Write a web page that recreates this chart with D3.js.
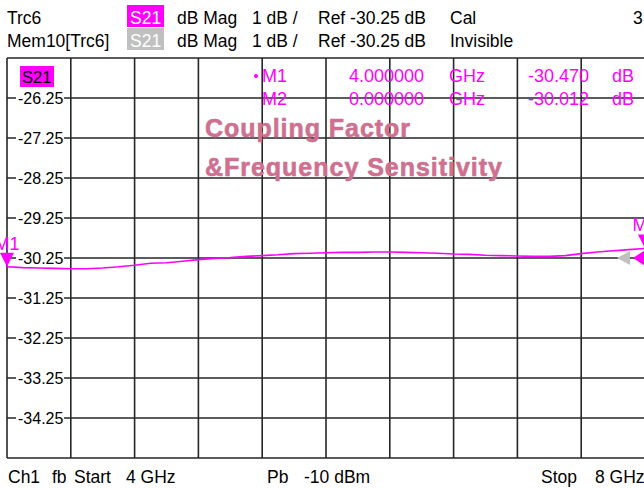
<!DOCTYPE html>
<html>
<head>
<meta charset="utf-8">
<script src="https://cdn.jsdelivr.net/npm/d3@7"></script>
<style>
  body { margin: 0; background: #fff; }
  text { font-family: "Liberation Sans", Arial, sans-serif; }
</style>
</head>
<body>
<div id="chart"></div>
<script>
// trace data (S21 magnitude vs frequency)
var freqGHz = [4.0, 4.1, 4.2, 4.3, 4.4, 4.5, 4.6, 4.7, 4.8, 4.9,
               5.0, 5.1, 5.2, 5.3, 5.4, 5.5, 5.6, 5.7, 5.8, 5.9,
               6.0, 6.1, 6.2, 6.3, 6.4, 6.5, 6.6, 6.7, 6.8, 6.9,
               7.0, 7.1, 7.2, 7.3, 7.4, 7.5, 7.6, 7.7, 7.8, 7.9, 8.0];
var s21dB = [-30.47, -30.49, -30.50, -30.51, -30.52, -30.52, -30.50, -30.47, -30.43, -30.38,
             -30.37, -30.33, -30.29, -30.26, -30.24, -30.21, -30.19, -30.17, -30.14, -30.13,
             -30.12, -30.11, -30.11, -30.10, -30.10, -30.11, -30.12, -30.13, -30.15, -30.16,
             -30.18, -30.19, -30.20, -30.21, -30.21, -30.19, -30.14, -30.10, -30.07, -30.04, -30.012];

var yTicks = [-26.25, -27.25, -28.25, -29.25, -30.25, -31.25, -32.25, -33.25, -34.25];
var refLevel = -30.25;

var markerNames = ["M1", "M2"];
var markerFreq = [4.0, 8.0];
var markerFreqText = ["4.000000", "0.000000"];
var markerValText = ["-30.470", "-30.012"];
var markerVal = [-30.47, -30.012];

var headerRows = [
  ["Trc6", "S21", "dB Mag", "1 dB /", "Ref -30.25 dB", "Cal"],
  ["Mem10[Trc6]", "S21", "dB Mag", "1 dB /", "Ref -30.25 dB", "Invisible"]
];
var footerTexts = ["Ch1", "fb", "Start", "4 GHz", "Pb", "-10 dBm", "Stop", "8 GHz"];
var titleLines = ["Coupling Factor", "&Frequency Sensitivity"];

var svgWidth = 644;
var svgHeight = 488;
var magenta = "#ff00ff";
var fs = 17.5;

var svg = d3.select("#chart")
  .append("svg")
  .attr("width", svgWidth)
  .attr("height", svgHeight);

var x = d3.scaleLinear().domain([4, 8]).range([7, 645]);
var y = d3.scaleLinear().domain([-35.25, -25.25]).range([458, 58]);

// header
var headerX = [7, 130, 177, 252, 318, 450];
headerRows.forEach(function(row, i) {
  var base = 24 + i * 23;
  svg.append("rect").attr("x", 127).attr("y", base - 19).attr("width", 37).attr("height", 22)
    .attr("fill", i == 0 ? magenta : "#c0c0c0");
  row.forEach(function(t, j) {
    svg.append("text").attr("x", headerX[j]).attr("y", base).attr("font-size", fs)
      .attr("fill", j == 1 ? "#fff" : "#000").text(t);
  });
});
svg.append("text").attr("x", 633).attr("y", 24).attr("font-size", fs).text("3");

// grid
var xGrid = d3.range(0, 11).map(function(i) { return 4 + i * 0.4; });
var yGrid = d3.range(0, 11).map(function(i) { return -35.25 + i; });

svg.append("g").selectAll("line")
  .data(xGrid).enter().append("line")
  .attr("x1", d => x(d)).attr("x2", d => x(d))
  .attr("y1", y(-25.25)).attr("y2", y(-35.25))
  .attr("stroke", "#262626").attr("stroke-width", 1.6);

svg.append("g").selectAll("line")
  .data(yGrid).enter().append("line")
  .attr("x1", x(4)).attr("x2", x(8))
  .attr("y1", d => y(d)).attr("y2", d => y(d))
  .attr("stroke", "#262626").attr("stroke-width", 1.6);

// y labels with white background
var yLab = svg.append("g").selectAll("g")
  .data(yTicks).enter().append("g")
  .attr("transform", d => `translate(0, ${y(d)})`);
yLab.append("rect").attr("x", 16).attr("y", -9).attr("width", 48).attr("height", 18).attr("fill", "#fff");
yLab.append("text").attr("x", 18).attr("y", 6).attr("font-size", 16).text(d => d.toFixed(2));

// S21 trace label
svg.append("rect").attr("x", 20).attr("y", 66).attr("width", 34).attr("height", 21).attr("fill", magenta);
svg.append("text").attr("x", 22).attr("y", 83).attr("font-size", 16.5).text("S21");

// marker table
var tableX = [262, 349, 449, 528, 612];
markerNames.forEach(function(m, i) {
  var base = 82 + i * 23;
  if (i == 0) svg.append("circle").attr("cx", 256).attr("cy", base - 6).attr("r", 2).attr("fill", magenta);
  [m, markerFreqText[i], "GHz", markerValText[i], "dB"].forEach(function(t, j) {
    svg.append("text").attr("x", tableX[j]).attr("y", base).attr("font-size", 18)
      .attr("fill", magenta).text(t);
  });
});

// title
titleLines.forEach(function(t, i) {
  svg.append("text")
    .attr("x", 205).attr("y", 137 + i * 39)
    .attr("font-weight", "bold")
    .attr("font-size", 25)
    .attr("textLength", i == 0 ? 205 : 297).attr("lengthAdjust", "spacing")
    .attr("fill", "#cf7090")
    .attr("stroke", "#cf7090").attr("stroke-width", 0.6)
    .text(t);
});

// trace
var line = d3.line().x(d => x(d[0])).y(d => y(d[1]));
svg.append("path")
  .datum(freqGHz.map((f, i) => [f, s21dB[i]]))
  .attr("d", line)
  .attr("fill", "none")
  .attr("stroke", magenta)
  .attr("stroke-width", 1.6);

// reference level arrows
var ry = y(refLevel);
svg.append("path")
  .attr("d", `M${x(8) - 28},${ry} L${x(8) - 15},${ry - 7} L${x(8) - 15},${ry + 7} Z`)
  .attr("fill", "#c0c0c0");
svg.append("path")
  .attr("d", `M${x(8) - 12},${ry} L${x(8)},${ry - 8} L${x(8)},${ry + 8} Z`)
  .attr("fill", magenta);

// markers
markerNames.forEach(function(m, i) {
  var mx = x(markerFreq[i]);
  var my = y(markerVal[i]);
  svg.append("path")
    .attr("d", `M${mx},${my} L${mx - 7},${my - 14} L${mx + 7},${my - 14} Z`)
    .attr("fill", magenta);
  svg.append("text").attr("x", mx).attr("y", my - 17)
    .attr("text-anchor", "middle").attr("font-size", 18).attr("fill", magenta).text(m);
});

// footer
var footerX = [8, 52, 74, 126, 267, 304, 541, 595];
footerTexts.forEach(function(t, j) {
  svg.append("text").attr("x", footerX[j]).attr("y", 483).attr("font-size", fs).text(t);
});
</script>
</body>
</html>
